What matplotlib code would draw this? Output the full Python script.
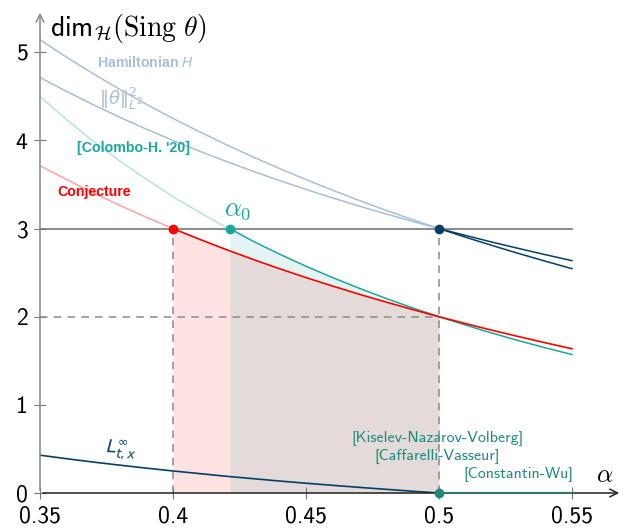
import numpy as np
import matplotlib
matplotlib.use("Agg")
import matplotlib.pyplot as plt

plt.rcParams["mathtext.fontset"] = "cm"

# values
alpha = [0.35, 0.36, 0.37, 0.38, 0.39, 0.40, 0.41, 0.42, 0.43, 0.44, 0.45,
         0.46, 0.47, 0.48, 0.49, 0.50, 0.51, 0.52, 0.53, 0.54, 0.55]
hamiltonian = [5.143, 4.944, 4.757, 4.579, 4.410, 4.250, 4.098, 3.952, 3.814, 3.682, 3.556,
               3.435, 3.319, 3.208, 3.102, 3.000, 2.902, 2.808, 2.717, 2.630, 2.545]
l2_norm = [4.714, 4.556, 4.405, 4.263, 4.128, 4.000, 3.878, 3.762, 3.651, 3.545, 3.444,
           3.348, 3.255, 3.167, 3.082, 3.000, 2.922, 2.846, 2.774, 2.704, 2.636]
colombo = [4.500, 4.236, 3.991, 3.767, 3.558, 3.363, 3.183, 3.014, 2.858, 2.711, 2.573,
           2.444, 2.323, 2.209, 2.101, 2.000, 1.905, 1.814, 1.728, 1.647, 1.571]
conjecture = [3.714, 3.556, 3.405, 3.263, 3.128, 3.000, 2.878, 2.762, 2.651, 2.545, 2.444,
              2.348, 2.255, 2.167, 2.082, 2.000, 1.922, 1.846, 1.774, 1.704, 1.636]
linf = [0.429, 0.389, 0.351, 0.316, 0.282, 0.250, 0.220, 0.190, 0.163, 0.136, 0.111,
        0.087, 0.064, 0.042, 0.020, 0.000]
alpha0 = 0.4214
alpha_conj = 0.40
alpha_half = 0.50
level3 = 3.0
level2 = 2.0
xticks = [0.35, 0.4, 0.45, 0.5, 0.55]
xticklabels = ["0.35", "0.4", "0.45", "0.5", "0.55"]
yticks = [0, 1, 2, 3, 4, 5]

a = np.array(alpha)
H = np.array(hamiltonian)
L2 = np.array(l2_norm)
CH = np.array(colombo)
CJ = np.array(conjecture)
LI = np.array(linf)

red = "#ff0000"
red_light = "#ffa3a3"
teal = "#19a89a"
teal_light = "#b3e6e1"
navy = "#053f68"
grey_light = "#a9bfd3"
green = "#1e8a78"

fig = plt.figure(figsize=(6.24, 5.32), dpi=100)
ax = fig.add_axes([40 / 624, 39 / 532, 582 / 624, 483 / 532])
ax.set_xlim(0.35, 0.5688)
ax.set_ylim(0, 5.48)

# colombo curve split at alpha0
m = a < alpha0
ch_x_left = np.append(a[m], alpha0)
ch_y_left = np.append(CH[m], level3)
ch_x_right = np.insert(a[~m], 0, alpha0)
ch_y_right = np.insert(CH[~m], 0, level3)

# shaded regions
sel = (a >= alpha_conj) & (a <= alpha_half)
ax.fill_between(a[sel], CJ[sel], 0, color=red, alpha=0.11, lw=0, zorder=1)
sel2 = ch_x_right <= alpha_half
ax.fill_between(ch_x_right[sel2], ch_y_right[sel2], 0, color=teal, alpha=0.12, lw=0, zorder=1)

# reference lines
ax.plot([0.35, 0.55], [level3, level3], color="#6b6b6b", lw=1.1, zorder=2)
ax.plot([0.35, alpha_half], [level2, level2], color="#8a8a8a", lw=1.1, ls=(0, (5, 4)), zorder=2)
ax.plot([alpha_conj, alpha_conj], [0, level3], color="#8a8a8a", lw=1.1, ls=(0, (5, 4)), zorder=2)
ax.plot([alpha_half, alpha_half], [0, level3], color="#8a8a8a", lw=1.1, ls=(0, (5, 4)), zorder=2)

# Hamiltonian and L2 curves
left = a <= alpha_half
right = a >= alpha_half
for y in (H, L2):
    ax.plot(a[left], y[left], color=grey_light, lw=1.1, zorder=3)
    ax.plot(a[right], y[right], color=navy, lw=1.1, zorder=3)

# Colombo-H.
ax.plot(ch_x_left, ch_y_left, color=teal_light, lw=1.1, zorder=3)
ax.plot(ch_x_right, ch_y_right, color=teal, lw=1.1, zorder=3)

# conjecture
cl = a <= alpha_conj
cr = a >= alpha_conj
ax.plot(a[cl], CJ[cl], color=red_light, lw=1.1, zorder=3)
ax.plot(a[cr], CJ[cr], color=red, lw=1.2, zorder=4)

# L infinity
ax.plot(a[:len(LI)], LI, color=navy, lw=1.2, zorder=3)
ax.plot([alpha_half, 0.55], [0, 0], color=green, lw=1.6, zorder=5)

# points
ax.plot(alpha_conj, level3, "o", color=red, ms=6, zorder=6)
ax.plot(alpha0, level3, "o", color=teal, ms=6, zorder=6)
ax.plot(alpha_half, level3, "o", color=navy, ms=6, zorder=6)
ax.plot(alpha_half, 0, "o", color=green, ms=6, zorder=6, clip_on=False)

# axes with arrows
for s in ax.spines.values():
    s.set_visible(False)
ax.annotate("", xy=(1, 0), xytext=(0, 0), xycoords="axes fraction",
            arrowprops=dict(arrowstyle="->", lw=1.1, color="#222222", mutation_scale=14))
ax.annotate("", xy=(0, 1), xytext=(0, 0), xycoords="axes fraction",
            arrowprops=dict(arrowstyle="->", lw=1.1, color="#888888", mutation_scale=14))

ax.set_xticks(xticks)
ax.set_xticklabels(xticklabels)
ax.set_yticks(yticks)
ax.tick_params(direction="inout", length=8, width=0.8, color="#777777", pad=5, labelsize=17)
for lab in ax.get_xticklabels() + ax.get_yticklabels():
    lab.set_fontfamily("cmss10")

# texts
ax.text(0.3538, 5.27, r"$\mathsf{dim}_{\mathcal{H}}(\mathrm{Sing}\ \theta)$", fontsize=20,
        ha="left", va="center")
ax.text(0.5624, 0.20, r"$\alpha$", fontsize=18, ha="center", va="center")
ax.text(0.4245, 3.22, r"$\alpha_0$", fontsize=19, ha="center", va="center", color=teal)

bold_font = dict(fontfamily="Liberation Sans", fontweight="bold", fontsize=10.2,
                 ha="center", va="center")
ax.text(0.3898, 4.89, r"Hamiltonian $H$", color=grey_light,
        math_fontfamily="dejavusans", **bold_font)
ax.text(0.3805, 4.47, r"$\Vert\theta\Vert_{L^2}^{2}$", fontsize=13, color=grey_light,
        ha="center", va="center", math_fontfamily="dejavusans")
ax.text(0.3853, 3.91, "[Colombo-H. '20]", color=teal, **bold_font)
ax.text(0.3705, 3.41, "Conjecture", color=red, **bold_font)
ax.text(0.3805, 0.50, r"$L^{\infty}_{t,x}$", fontsize=13, color=navy,
        ha="center", va="center", math_fontfamily="dejavusans", rotation=-3)

for label, xx, yy in [("[Kiselev-Nazarov-Volberg]", 0.4996, 0.62),
                      ("[Caffarelli-Vasseur]", 0.4992, 0.41),
                      ("[Constantin-Wu]", 0.5297, 0.215)]:
    ax.text(xx, yy, label, fontsize=11.5, color=green, ha="center", va="center",
            fontfamily="cmss10")

fig.savefig("out.png", dpi=100)
